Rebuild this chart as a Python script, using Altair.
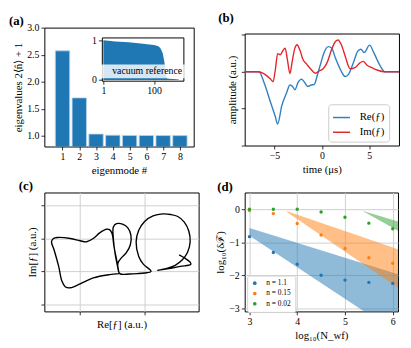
import altair as alt
import pandas as pd

SERIF = "Liberation Serif"
C0, C1, C2 = "#1f77b4", "#ff7f0e", "#2ca02c"
BLUE_LINE, RED_LINE = "#2f80c2", "#e3262b"

# ---------------- (a) eigenvalues ----------------
modes = [1, 2, 3, 4, 5, 6, 7, 8]
eigvals = [2.57, 1.70, 1.03, 1.01, 1.005, 1.004, 1.003, 1.002]
# inset: vacuum reference
vac_mode = [1, 3, 10, 30, 100, 150, 180, 220, 255, 290, 320, 400, 600, 950]
vac_val = [1.0, 0.97, 0.95, 0.92, 0.88, 0.85, 0.80, 0.68, 0.47, 0.18, 0.04, 0.03, 0.02, 0.01]

# ---------------- (b) amplitudes ----------------
re_t = [-8.15, -6.63, -6.1, -5.43, -4.91, -4.67, -4.23, -3.71, -3.37, -3.09, -2.85, -2.51,
        -2.16, -1.82, -1.48, -1.13, -0.79, -0.45, -0.1, 0.24, 0.69, 1.03, 1.44, 1.96, 2.47,
        2.82, 3.33, 3.78, 4.12, 4.47, 5.05, 5.5, 6.08, 6.67, 8.15]
re_v = [0, 0, -0.3, -0.82, -1.22, -1.42, -0.92, -0.56, -0.36, -0.40, -0.49, -0.29, -0.20,
        -0.29, -0.40, -0.36, -0.34, -0.07, 0.24, 0.52, 0.68, 0.64, 0.37, 0.06, -0.13, -0.07,
        0.24, 0.55, 0.61, 0.52, 0.72, 0.51, 0.20, 0.0, 0.0]
im_t = [-8.15, -6.8, -6.29, -5.77, -5.43, -5.15, -4.91, -4.67, -4.4, -4.16, -3.88, -3.64,
        -3.37, -3.13, -2.85, -2.61, -2.34, -1.99, -1.58, -1.13, -0.69, -0.27, 0.14, 0.58,
        1.03, 1.44, 1.72, 2.06, 2.47, 2.99, 3.51, 4.02, 4.36, 4.81, 5.29, 5.91, 6.6, 8.15]
im_v = [0, 0, -0.03, -0.12, -0.2, -0.27, 0.06, 0.49, 0.46, 0.55, 0.64, 0.33, -0.05, 0.28,
        0.64, 0.73, 0.6, 0.33, 0.2, 0.06, -0.04, 0.02, 0.08, 0.26, 0.6, 0.82, 0.86, 0.73,
        0.42, 0.08, 0.11, 0.24, 0.28, 0.17, 0.11, 0.04, 0.0, 0.0]

# ---------------- (c) phase-space trajectory ----------------
c_re = [0.61, 0.46, 0.21, 0.01, -0.14, -0.22, -0.27, -0.32, -0.39, -0.43, -0.40, -0.34,
        -0.14, 0.01, 0.11, 0.21, 0.31, 0.41, 0.46, 0.50, 0.53, 0.57, 0.61,
        0.55, 0.52, 0.52, 0.57, 0.67, 0.74, 0.79, 0.78, 0.72, 0.64, 0.59, 0.62,
        0.77, 0.89, 1.00, 1.10, 0.98, 0.91, 0.87, 0.91, 1.00, 1.13, 1.28, 1.40, 1.51, 1.61,
        1.68, 1.70, 1.66, 1.58, 1.47, 1.33, 1.20, 1.40, 1.55, 1.71, 1.70, 1.62, 1.53]
c_im = [-0.07, -0.10, -0.20, -0.38, -0.50, -0.47, -0.30, 0.15, 0.65, 0.90, 1.00, 1.03,
        1.00, 0.93, 0.90, 1.00, 1.17, 1.28, 1.27, 1.15, 0.75, 0.35, -0.07,
        0.50, 1.00, 1.35, 1.45, 1.43, 1.33, 1.10, 0.80, 0.57, 0.40, 0.25, -0.07,
        -0.08, -0.07, -0.05, 0.00, 0.22, 0.45, 0.90, 1.25, 1.52, 1.69, 1.75, 1.73, 1.67, 1.50,
        1.22, 0.90, 0.58, 0.35, 0.18, 0.08, 0.03, 0.09, 0.15, 0.21, 0.28, 0.40, 0.50]

# ---------------- (d) scaling ----------------
d_logN = [3, 3.5, 4, 4.5, 5, 5.5, 6]
d_labels = ["n = 1.1", "n = 0.15", "n = 0.02"]
d_n11 = [-0.83, -1.31, -1.67, -2.00, -2.15, -2.22, -2.25]
d_n015 = [-0.04, -0.13, -0.43, -0.78, -1.19, -1.47, -1.64]
d_n002 = [0.0, 0.0, 0.0, -0.08, -0.24, -0.42, -0.59]
band_label = ["n = 1.1", "n = 1.1", "n = 0.15", "n = 0.15", "n = 0.02", "n = 0.02"]
band_x = [3.0, 6.11, 3.79, 6.11, 5.38, 6.11]
band_hi = [-0.57, -1.97, -0.06, -1.21, -0.05, -0.37]
band_lo = [-0.80, -3.78, -0.09, -2.38, -0.06, -0.65]


def ptitle(txt, dx, offset):
    return alt.TitleParams(txt, anchor="start", dx=dx, offset=offset, font=SERIF,
                           fontSize=13, fontWeight="bold", color="black", frame="group")


# ---------- panel (a) ----------
df_a = pd.DataFrame({"mode": modes, "eig": eigvals})
df_v = pd.DataFrame({"m": vac_mode, "v": vac_val, "lab": ["vacuum reference"] * len(vac_mode)})

bars = alt.Chart(df_a).mark_bar(size=14.6, clip=True, color=C0, stroke="#b7d3ea",
                                strokeWidth=0.8).encode(
    x=alt.X("mode:Q", scale=alt.Scale(domain=[0.21, 8.53], nice=False, zero=False),
            axis=alt.Axis(values=modes, format="d", title="eigenmode #", domain=False)),
    y=alt.Y("eig:Q", scale=alt.Scale(domain=[0.8, 3.0], nice=False, zero=False),
            axis=alt.Axis(values=[1.0, 1.5, 2.0, 2.5, 3.0], format=".1f",
                          title="eigenvalues  2⟨n̂⟩ + 1", domain=False)),
)
inset_x = alt.Scale(type="log", domain=[0.87, 1450], range=[58.5, 141.5], nice=False)
inset_y = alt.Scale(domain=[-0.02, 1.07], range=[54, 10], nice=False, zero=False)
inset = alt.Chart(df_v).mark_area(clip=False).encode(
    x=alt.X("m:Q", scale=inset_x,
            axis=alt.Axis(orient="bottom", offset=-67, values=[1, 100], format="d",
                          title=None, domain=True, domainColor="black")),
    y=alt.Y("v:Q", scale=inset_y,
            axis=alt.Axis(orient="left", offset=-58.5, values=[0, 1], format="d",
                          title=None, domain=True, domainColor="black")),
    color=alt.Color("lab:N", scale=alt.Scale(range=[C0]),
                    legend=alt.Legend(orient="none", legendX=57, legendY=37.5, title=None,
                                      symbolSize=0, symbolOpacity=0, symbolStrokeWidth=0,
                                      labelOffset=0, labelFont=SERIF, labelFontSize=10,
                                      labelColor="black", padding=2,
                                      fillColor="rgba(255,255,255,0.82)")),
)
inset_frame = alt.Chart(df_v).mark_area(opacity=0).encode(
    x=alt.X("m:Q", scale=inset_x,
            axis=alt.Axis(orient="top", offset=-10, labels=False, ticks=False, title=None,
                          domain=True, domainColor="black")),
    y=alt.Y("v:Q", scale=inset_y,
            axis=alt.Axis(orient="right", offset=-10.5, labels=False, ticks=False, title=None,
                          domain=True, domainColor="black")),
)
panel_a = alt.layer(bars, inset, inset_frame).resolve_scale(
    x="independent", y="independent", color="independent"
).properties(width=152, height=121, title=ptitle("(a)", -36, -5))

# ---------- panel (b) ----------
df_b = pd.concat([
    pd.DataFrame({"t": re_t, "amp": re_v, "comp": "Re(ƒ)"}),
    pd.DataFrame({"t": im_t, "amp": im_v, "comp": "Im(ƒ)"}),
])
panel_b = alt.Chart(df_b).mark_line(strokeWidth=1.4, interpolate="monotone").encode(
    x=alt.X("t:Q", scale=alt.Scale(domain=[-8.15, 8.15], nice=False),
            axis=alt.Axis(values=[-5, 0, 5], title="time (μs)", domain=False)),
    y=alt.Y("amp:Q", scale=alt.Scale(domain=[-2, 1.035], nice=False, zero=False),
            axis=alt.Axis(values=[-2, -1, 0, 1], labels=False, title="amplitude (a.u.)",
                          domain=False)),
    color=alt.Color("comp:N", scale=alt.Scale(domain=["Re(ƒ)", "Im(ƒ)"],
                                              range=[BLUE_LINE, RED_LINE]),
                    legend=alt.Legend(orient="none", legendX=85, legendY=72, title=None,
                                      symbolType="stroke", symbolSize=300,
                                      symbolStrokeWidth=1.5, labelFont=SERIF,
                                      labelFontSize=11, labelColor="black", labelOffset=9,
                                      padding=4, rowPadding=0, fillColor="white",
                                      strokeColor="#cccccc", cornerRadius=3)),
).properties(width=157, height=114, title=ptitle("(b)", -27, 9))

spacer = alt.Chart(pd.DataFrame({"s": [0]})).mark_point(opacity=0).encode(
    x=alt.X("s:Q", axis=None), y=alt.Y("s:Q", axis=None)
).properties(width=157, height=6, view=alt.ViewBackground(strokeOpacity=0))

col_b = alt.vconcat(spacer, panel_b, spacing=0, bounds="flush").resolve_scale(
    color="independent")

# ---------- panel (c) ----------
df_c = pd.DataFrame({"re": c_re, "im": c_im, "k": list(range(len(c_re)))})
panel_c = alt.Chart(df_c).mark_line(color="black", strokeWidth=1.4,
                                    interpolate="catmull-rom").encode(
    x=alt.X("re:Q", scale=alt.Scale(domain=[-0.54, 1.83], nice=False, zero=False),
            axis=alt.Axis(values=[0, 1], labels=False, grid=True, title="Re[ƒ] (a.u.)",
                          domain=False)),
    y=alt.Y("im:Q", scale=alt.Scale(domain=[-1.22, 2.4], nice=False, zero=False),
            axis=alt.Axis(values=[-1, 0, 1, 2], labels=False, grid=True,
                          title="Im[ƒ] (a.u.)", domain=False)),
    order="k:Q",
).properties(width=157, height=121, title=ptitle("(c)", -26, 0))

# ---------- panel (d) ----------
df_pts = pd.concat([
    pd.DataFrame({"x": d_logN, "y": d_n11, "n": d_labels[0]}),
    pd.DataFrame({"x": d_logN, "y": d_n015, "n": d_labels[1]}),
    pd.DataFrame({"x": d_logN, "y": d_n002, "n": d_labels[2]}),
])
df_band = pd.DataFrame({"x": band_x, "hi": band_hi, "lo": band_lo, "n": band_label})
d_xs = alt.Scale(domain=[2.9, 6.11], nice=False, zero=False)
d_ys = alt.Scale(domain=[-3.1, 0.51], nice=False, zero=False)
d_cs = alt.Scale(domain=d_labels, range=[C0, C1, C2])
xax = alt.Axis(values=[3, 4, 5, 6], format="d", grid=True, title="log₁₀(N_wf)", domain=False)
yax = alt.Axis(values=[0, -1, -2, -3], format="d", grid=True, title="log₁₀(δℱ)", domain=False)
bands = alt.Chart(df_band).mark_area(opacity=0.5, clip=True).encode(
    x=alt.X("x:Q", scale=d_xs, axis=xax),
    y=alt.Y("hi:Q", scale=d_ys, axis=yax),
    y2="lo:Q",
    color=alt.Color("n:N", scale=d_cs, legend=None),
)
pts = alt.Chart(df_pts).mark_circle(size=12, opacity=1).encode(
    x=alt.X("x:Q", scale=d_xs),
    y=alt.Y("y:Q", scale=d_ys),
    color=alt.Color("n:N", scale=d_cs,
                    legend=alt.Legend(orient="none", legendX=2.5, legendY=84.5, title=None,
                                      symbolType="circle", symbolSize=14,
                                      labelFont=SERIF, labelFontSize=7.5,
                                      labelColor="black", labelOffset=8, padding=4,
                                      rowPadding=1.5, fillColor="white",
                                      strokeColor="#d0d0d0", cornerRadius=2)),
)
panel_d = alt.layer(bands, pts).resolve_scale(color="independent").properties(
    width=156, height=121, title=ptitle("(d)", -28, -1))

chart = alt.concat(
    panel_a, col_b, panel_c, panel_d, columns=2, bounds="flush",
    spacing={"row": 46.8, "column": 46.9}
).resolve_scale(color="independent").properties(
    padding={"left": 0, "top": 0, "right": 0, "bottom": 0}
).configure_view(stroke="black", strokeWidth=1).configure_axis(
    labelFont=SERIF, titleFont=SERIF, labelFontSize=10, titleFontSize=11,
    labelColor="black", titleColor="black", tickColor="black", tickSize=3.5,
    tickWidth=0.8, labelPadding=2, titlePadding=3, titleFontWeight="normal",
    grid=False, gridColor="#cfcfcf", gridWidth=1
)

chart.save("out.html", embed_options={"renderer": "svg", "actions": False})
